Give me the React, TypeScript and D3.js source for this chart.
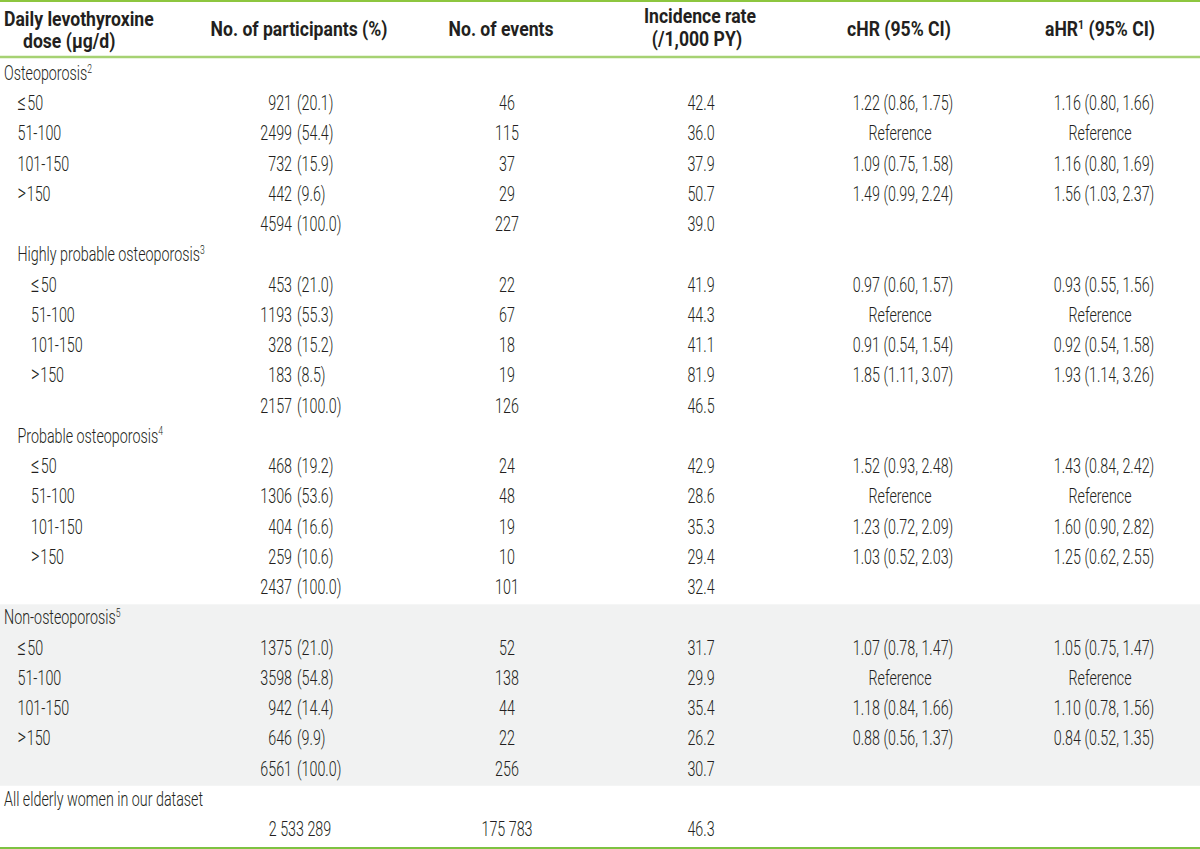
import React from "react";
import * as d3 from "d3";

// ---------- DATA ----------
const headers = ["No. of participants (%)", "No. of events", "cHR (95% CI)"];
const groupNames = ["Osteoporosis", "Highly probable osteoporosis", "Probable osteoporosis", "Non-osteoporosis"];
const groupSup = ["2", "3", "4", "5"];
const groupLevel = [0, 1, 1, 0];
const doseLabels = ["≤50", "51-100", "101-150", ">150"];

const participantsN = [
  [921, 2499, 732, 442, 4594],
  [453, 1193, 328, 183, 2157],
  [468, 1306, 404, 259, 2437],
  [1375, 3598, 942, 646, 6561],
];
const participantsPct = [
  ["20.1", "54.4", "15.9", "9.6", "100.0"],
  ["21.0", "55.3", "15.2", "8.5", "100.0"],
  ["19.2", "53.6", "16.6", "10.6", "100.0"],
  ["21.0", "54.8", "14.4", "9.9", "100.0"],
];
const events = [
  [46, 115, 37, 29, 227],
  [22, 67, 18, 19, 126],
  [24, 48, 19, 10, 101],
  [52, 138, 44, 22, 256],
];
const incidence = [
  ["42.4", "36.0", "37.9", "50.7", "39.0"],
  ["41.9", "44.3", "41.1", "81.9", "46.5"],
  ["42.9", "28.6", "35.3", "29.4", "32.4"],
  ["31.7", "29.9", "35.4", "26.2", "30.7"],
];
const cHR = [
  ["1.22 (0.86, 1.75)", "Reference", "1.09 (0.75, 1.58)", "1.49 (0.99, 2.24)"],
  ["0.97 (0.60, 1.57)", "Reference", "0.91 (0.54, 1.54)", "1.85 (1.11, 3.07)"],
  ["1.52 (0.93, 2.48)", "Reference", "1.23 (0.72, 2.09)", "1.03 (0.52, 2.03)"],
  ["1.07 (0.78, 1.47)", "Reference", "1.18 (0.84, 1.66)", "0.88 (0.56, 1.37)"],
];
const aHR = [
  ["1.16 (0.80, 1.66)", "Reference", "1.16 (0.80, 1.69)", "1.56 (1.03, 2.37)"],
  ["0.93 (0.55, 1.56)", "Reference", "0.92 (0.54, 1.58)", "1.93 (1.14, 3.26)"],
  ["1.43 (0.84, 2.42)", "Reference", "1.60 (0.90, 2.82)", "1.25 (0.62, 2.55)"],
  ["1.05 (0.75, 1.47)", "Reference", "1.10 (0.78, 1.56)", "0.84 (0.52, 1.35)"],
];
const allLabel = "All elderly women in our dataset";
const allParticipants = "2 533 289";
const allEvents = "175 783";
const allIncidence = "46.3";
const shadedGroup = 3;

// ---------- LAYOUT ----------
const W = 1200;
const H = 849;
const FONT = "Roboto, 'Liberation Sans', Arial, sans-serif";
const SX = 0.715;
const SXB = 0.88;
const TXT = "#231f20";
const nRows = 26;
const rowY = d3.scaleLinear().domain([0, nRows - 1]).range([80, 836]);
const rowTop = (i: number) => rowY(i) - 20;

const colX = {
  label: 4,
  indent: 13.5,
  partNumEnd: 292,
  partParStart: 297,
  events: 507,
  inc: 701,
  chr: 903,
  ahr: 1104,
};

type TProps = {
  x: number;
  y: number;
  anchor?: "start" | "middle" | "end";
  bold?: boolean;
  size?: number;
  children: React.ReactNode;
};
function T({ x, y, anchor = "start", bold = false, size, children }: TProps) {
  const fs = size ?? 20;
  return (
    <text
      transform={`translate(${x},${y}) scale(${bold ? SXB : SX},1)`}
      textAnchor={anchor}
      fontFamily={FONT}
      fontSize={fs}
      fontWeight={bold ? 700 : 300}
      fill={TXT}
    >
      {children}
    </text>
  );
}

function Sup({ children }: { children: React.ReactNode }) {
  return (
    <tspan fontSize={12} dy={-7.5}>
      {children}
    </tspan>
  );
}

function DoseLabel({ label }: { label: string }) {
  const sym = label[0];
  if (sym === "≤" || sym === ">") {
    return (
      <>
        <tspan fontSize={23}>{sym}</tspan>
        <tspan dx={sym === ">" ? 1 : 2}>{label.slice(1)}</tspan>
      </>
    );
  }
  return <>{label}</>;
}

export default function App() {
  const rows: React.ReactNode[] = [];
  let r = 0;
  groupNames.forEach((g, gi) => {
    const lvl = groupLevel[gi];
    const gx = colX.label + lvl * colX.indent;
    rows.push(
      <T key={`g${gi}`} x={gx} y={rowY(r)}>
        {g}
        <Sup>{groupSup[gi]}</Sup>
      </T>
    );
    r++;
    for (let k = 0; k < 5; k++) {
      const y = rowY(r);
      const isTotal = k === 4;
      if (!isTotal) {
        rows.push(
          <T key={`d${gi}-${k}`} x={gx + colX.indent} y={y}>
            <DoseLabel label={doseLabels[k]} />
          </T>
        );
      }
      rows.push(
        <T key={`pn${gi}-${k}`} x={colX.partNumEnd} y={y} anchor="end">
          {participantsN[gi][k]}
        </T>,
        <T key={`pp${gi}-${k}`} x={colX.partParStart} y={y}>
          {`(${participantsPct[gi][k]})`}
        </T>,
        <T key={`ev${gi}-${k}`} x={colX.events} y={y} anchor="middle">
          {events[gi][k]}
        </T>,
        <T key={`ir${gi}-${k}`} x={colX.inc} y={y} anchor="middle">
          {incidence[gi][k]}
        </T>
      );
      if (!isTotal) {
        const c = cHR[gi][k];
        const a = aHR[gi][k];
        rows.push(
          <T key={`c${gi}-${k}`} x={colX.chr - (c === "Reference" ? 3 : 0)} y={y} anchor="middle">
            {c}
          </T>,
          <T key={`a${gi}-${k}`} x={colX.ahr - (a === "Reference" ? 4 : 0)} y={y} anchor="middle">
            {a}
          </T>
        );
      }
      r++;
    }
  });
  const allRow = r;
  rows.push(
    <T key="all" x={colX.label} y={rowY(allRow)}>
      {allLabel}
    </T>,
    <T key="allp" x={colX.partParStart + 3} y={rowY(allRow + 1)} anchor="middle">
      {allParticipants}
    </T>,
    <T key="alle" x={colX.events} y={rowY(allRow + 1)} anchor="middle">
      {allEvents}
    </T>,
    <T key="alli" x={colX.inc} y={rowY(allRow + 1)} anchor="middle">
      {allIncidence}
    </T>
  );

  const shadeStart = shadedGroup * 6;
  const shadeEnd = shadeStart + 6;

  return (
    <svg
      width={W}
      height={H}
      viewBox={`0 0 ${W} ${H}`}
      style={{ position: "absolute", left: 0, top: 0, background: "#fff" }}
    >
      <rect x={0} y={0} width={W} height={H} fill="#fff" />
      <rect
        x={0}
        y={rowTop(shadeStart)}
        width={W}
        height={rowTop(shadeEnd) - rowTop(shadeStart)}
        fill="#f1f2f2"
      />
      {/* header */}
      <T x={4} y={26} bold>
        Daily levothyroxine
      </T>
      <T x={23} y={48} bold>
        dose (µg/d)
      </T>
      <T x={299} y={36} anchor="middle" bold>
        {headers[0]}
      </T>
      <T x={501} y={36} anchor="middle" bold>
        {headers[1]}
      </T>
      <T x={700} y={23} anchor="middle" bold>
        Incidence rate
      </T>
      <T x={697} y={46} anchor="middle" bold>
        (/1,000 PY)
      </T>
      <T x={899} y={36} anchor="middle" bold>
        {headers[2]}
      </T>
      <T x={1100} y={36} anchor="middle" bold>
        aHR<Sup>1</Sup>
        <tspan dy={7.5}> (95% CI)</tspan>
      </T>
      <line x1={0} x2={W} y1={1} y2={1} stroke="#8dc63f" strokeWidth={2} />
      <line x1={0} x2={W} y1={57} y2={57} stroke="#a6d273" strokeWidth={2.5} />
      <line x1={0} x2={W} y1={848} y2={848} stroke="#7dc242" strokeWidth={2} />
      {rows}
    </svg>
  );
}
